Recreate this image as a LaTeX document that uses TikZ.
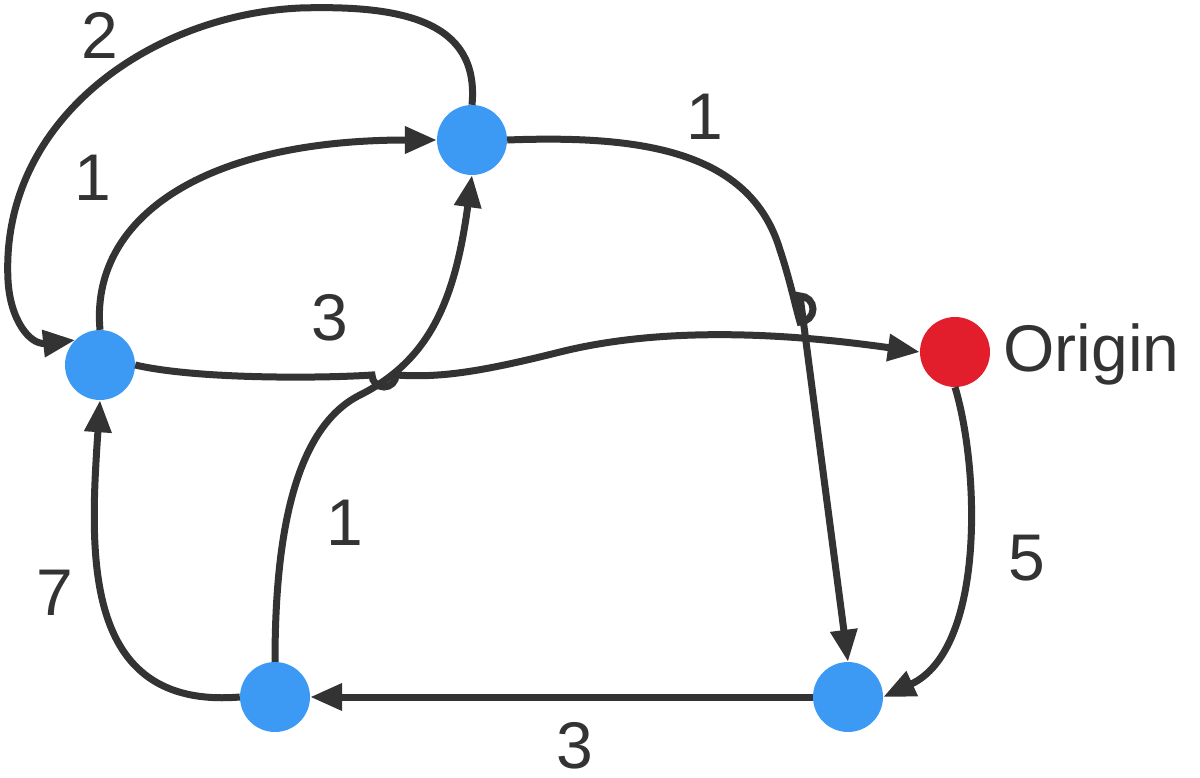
\documentclass[tikz,border=0pt]{standalone}
\usepackage{fontspec}
\setmainfont{Liberation Sans}
\usetikzlibrary{arrows.meta}
\begin{document}
\begin{tikzpicture}[x=1pt,y=-1pt,
  vert/.style={circle,minimum size=70pt,inner sep=0pt},
  edge/.style={line width=7pt,draw=black!80,-{Triangle[length=32pt,width=26pt]}},
  lbl/.style={font=\fontsize{66}{78}\selectfont,text=black!80}]
\useasboundingbox (0,0) rectangle (1200,777);
\definecolor{vb}{RGB}{60,154,245}
\definecolor{vr}{RGB}{226,30,45}
\node[vert,fill=vb] (A) at (472,140) {};
\node[vert,fill=vb] (B) at (100,365) {};
\node[vert,fill=vr] (C) at (955,352) {};
\node[vert,fill=vb] (D) at (275,697) {};
\node[vert,fill=vb] (E) at (848,697) {};
\node[lbl,anchor=west] (org) at (1000,354) {Origin};
\draw[edge] (A.north) .. controls (480,20) and (400,5) .. (300,8) .. controls (150,15) and (0,120) .. (8,280) .. controls (10,320) and (30,345) .. (B.north west);
\draw[edge] (B.north) .. controls (90,220) and (200,140) .. (A.west);
\draw[edge] (A.east) .. controls (640,135) and (750,150) .. (780,250) .. controls (790,280) and (795,305) .. (800,322) arc[start angle=90,end angle=-90,radius=13] -- (E.north);
\draw[edge] (B.east) .. controls (200,380) and (330,378) .. (372,375) arc[start angle=180,end angle=0,radius=12] .. controls (440,378) and (480,372) .. (560,352) .. controls (680,322) and (820,338) .. (C.west);
\draw[edge] (D.north) .. controls (275,550) and (290,430) .. (360,395) .. controls (430,360) and (455,300) .. (A.south);
\draw[edge] (D.west) .. controls (80,710) and (90,550) .. (B.south);
\draw[edge] (E.west) -- (D.east);
\draw[edge] (C.south) .. controls (980,470) and (985,650) .. (E.east);
\node[lbl] (l1) at (100,35) {2};
\node[lbl] (l2) at (93,178) {1};
\node[lbl] (l3) at (705,117) {1};
\node[lbl] (l4) at (330,318) {3};
\node[lbl] (l5) at (345,523) {1};
\node[lbl] (l6) at (55,593) {7};
\node[lbl] (l7) at (575,746) {3};
\node[lbl] (l8) at (1027,558) {5};
\end{tikzpicture}
\end{document}
